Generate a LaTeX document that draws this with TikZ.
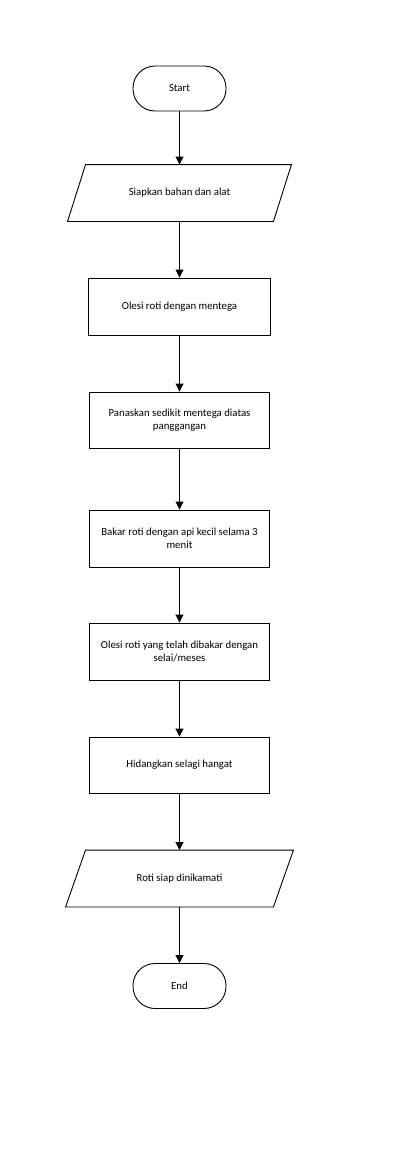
\documentclass[tikz,border=0pt]{standalone}
\usepackage{fontspec}
\setmainfont{Carlito}
\usetikzlibrary{arrows.meta}

\tikzset{
    terminal/.style={draw, rounded corners=22pt, minimum width=93pt, minimum height=45pt},
    iobox/.style={minimum width=205pt, minimum height=56pt},
    procbox/.style={draw, minimum width=180pt, minimum height=56pt, align=center},
    flow/.style={-{Triangle[length=8pt, width=8pt]}}
}

\begin{document}
\begin{tikzpicture}[x=1pt, y=-1pt, line width=0.9pt, font=\fontsize{10.8}{13}\selectfont]
    \useasboundingbox (0,0) rectangle (412,1153);

    % Nodes
    \node[terminal] (start) at (179.5,88.5) {Start};
    \node[iobox] (siapkan) at (179.5,193) {Siapkan bahan dan alat};
    \node[procbox, minimum width=182pt, minimum height=57pt] (olesi) at (179.5,306.5) {Olesi roti dengan mentega};
    \node[procbox] (panaskan) at (179.5,420) {Panaskan sedikit mentega diatas\\panggangan};
    \node[procbox, minimum height=57pt] (bakar) at (179.5,538.5) {Bakar roti dengan api kecil selama 3\\menit};
    \node[procbox, minimum height=57pt] (selai) at (179.5,651.5) {Olesi roti yang telah dibakar dengan\\selai/meses};
    \node[procbox] (hidangkan) at (179.5,765) {Hidangkan selagi hangat};
    \node[iobox, minimum width=207pt] (siap) at (179.5,878.5) {Roti siap dinikamati};
    \node[terminal] (end) at (179.5,986) {End};

    % Input/output outlines
    \draw ([xshift=9pt]siapkan.north west) -- ([xshift=9pt]siapkan.north east)
        -- ([xshift=-9pt]siapkan.south east) -- ([xshift=-9pt]siapkan.south west) -- cycle;
    \draw ([xshift=10pt]siap.north west) -- ([xshift=10pt]siap.north east)
        -- ([xshift=-10pt]siap.south east) -- ([xshift=-10pt]siap.south west) -- cycle;

    % Connectors
    \draw[flow] (start) -- (siapkan);
    \draw[flow] (siapkan) -- (olesi);
    \draw[flow] (olesi) -- (panaskan);
    \draw[flow] (panaskan) -- (bakar);
    \draw[flow] (bakar) -- (selai);
    \draw[flow] (selai) -- (hidangkan);
    \draw[flow] (hidangkan) -- (siap);
    \draw[flow] (siap) -- (end);
\end{tikzpicture}
\end{document}
